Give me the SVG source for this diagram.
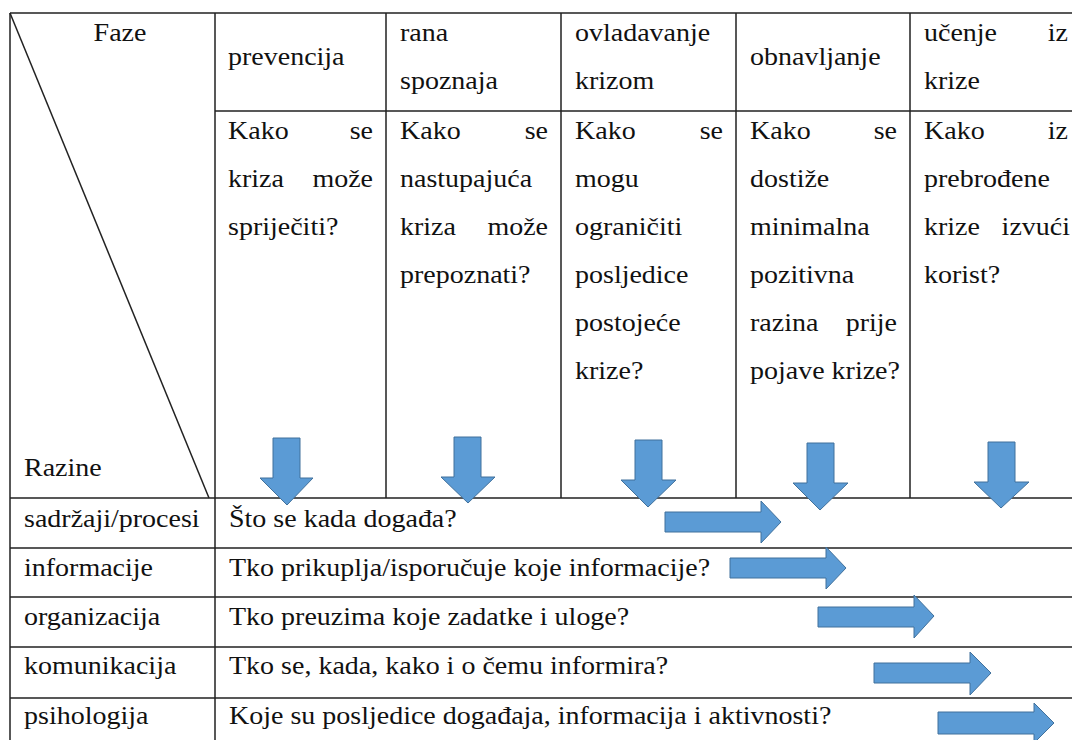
<svg xmlns="http://www.w3.org/2000/svg" width="1072" height="740" viewBox="0 0 1072 740">
<style>
.ln{stroke:#222;stroke-width:1.5;fill:none}
text{font-family:"Liberation Serif","DejaVu Serif",serif;font-size:25px;fill:#111}
.e{text-anchor:end}
.m{text-anchor:middle}
.ar{fill:#5B9BD5;stroke:#41719C;stroke-width:1}
</style>
<rect width="1072" height="740" fill="#fff"/>
<g id="grid">
<path class="ln" d="M10 13H1072M215 111H1072M10 498H1072M10 548H1072M10 597H1072M10 647H1072M10 698H1072"/>
<path class="ln" d="M10 13V740M215 13V740M386 13V498M561 13V498M736 13V498M910 13V498"/>
<path class="ln" d="M10 13L209 498"/>
</g>
<g id="corner" font-family="Liberation Serif, serif">
<text class="m" transform="translate(120 41) scale(1.12 1)">Faze</text>
<text transform="translate(24 476) scale(1.12 1)">Razine</text>
</g>
<g id="phase-prevencija">
<text transform="translate(228 65) scale(1.12 1)">prevencija</text>
<text transform="translate(228 139) scale(1.12 1)">Kako</text>
<text class="e" transform="translate(373 139) scale(1.12 1)">se</text>
<text transform="translate(228 187) scale(1.12 1)">kriza</text>
<text class="e" transform="translate(373 187) scale(1.12 1)">može</text>
<text transform="translate(228 235) scale(1.12 1)">spriječiti?</text>
</g>
<g id="phase-rana-spoznaja">
<text transform="translate(400 41) scale(1.12 1)">rana</text>
<text transform="translate(400 89) scale(1.12 1)">spoznaja</text>
<text transform="translate(400 139) scale(1.12 1)">Kako</text>
<text class="e" transform="translate(548 139) scale(1.12 1)">se</text>
<text transform="translate(400 187) scale(1.12 1)">nastupajuća</text>
<text transform="translate(400 235) scale(1.12 1)">kriza</text>
<text class="e" transform="translate(548 235) scale(1.12 1)">može</text>
<text transform="translate(400 283) scale(1.12 1)">prepoznati?</text>
</g>
<g id="phase-ovladavanje">
<text transform="translate(575 41) scale(1.12 1)">ovladavanje</text>
<text transform="translate(575 89) scale(1.12 1)">krizom</text>
<text transform="translate(575 139) scale(1.12 1)">Kako</text>
<text class="e" transform="translate(723 139) scale(1.12 1)">se</text>
<text transform="translate(575 187) scale(1.12 1)">mogu</text>
<text transform="translate(575 235) scale(1.12 1)">ograničiti</text>
<text transform="translate(575 283) scale(1.12 1)">posljedice</text>
<text transform="translate(575 331) scale(1.12 1)">postojeće</text>
<text transform="translate(575 379) scale(1.12 1)">krize?</text>
</g>
<g id="phase-obnavljanje">
<text transform="translate(750 65) scale(1.12 1)">obnavljanje</text>
<text transform="translate(750 139) scale(1.12 1)">Kako</text>
<text class="e" transform="translate(897 139) scale(1.12 1)">se</text>
<text transform="translate(750 187) scale(1.12 1)">dostiže</text>
<text transform="translate(750 235) scale(1.12 1)">minimalna</text>
<text transform="translate(750 283) scale(1.12 1)">pozitivna</text>
<text transform="translate(750 331) scale(1.12 1)">razina</text>
<text class="e" transform="translate(897 331) scale(1.12 1)">prije</text>
<text transform="translate(750 379) scale(1.12 1)">pojave krize?</text>
</g>
<g id="phase-ucenje">
<text transform="translate(924 41) scale(1.12 1)">učenje</text>
<text class="e" transform="translate(1068 41) scale(1.12 1)">iz</text>
<text transform="translate(924 89) scale(1.12 1)">krize</text>
<text transform="translate(924 139) scale(1.12 1)">Kako</text>
<text class="e" transform="translate(1068 139) scale(1.12 1)">iz</text>
<text transform="translate(924 187) scale(1.12 1)">prebrođene</text>
<text transform="translate(924 235) scale(1.12 1)">krize</text>
<text class="e" transform="translate(1070 235) scale(1.12 1)">izvući</text>
<text transform="translate(924 283) scale(1.12 1)">korist?</text>
</g>
<g id="level-sadrzaji">
<text transform="translate(24 527) scale(1.12 1)">sadržaji/procesi</text>
<text transform="translate(229 527) scale(1.12 1)">Što se kada događa?</text>
</g>
<g id="level-informacije">
<text transform="translate(24 576) scale(1.12 1)">informacije</text>
<text transform="translate(229 576) scale(1.12 1)">Tko prikuplja/isporučuje koje informacije?</text>
</g>
<g id="level-organizacija">
<text transform="translate(24 625) scale(1.12 1)">organizacija</text>
<text transform="translate(229 625) scale(1.12 1)">Tko preuzima koje zadatke i uloge?</text>
</g>
<g id="level-komunikacija">
<text transform="translate(24 674) scale(1.12 1)">komunikacija</text>
<text transform="translate(229 674) scale(1.12 1)">Tko se, kada, kako i o čemu informira?</text>
</g>
<g id="level-psihologija">
<text transform="translate(24 724) scale(1.12 1)">psihologija</text>
<text transform="translate(229 724) scale(1.12 1)">Koje su posljedice događaja, informacija i aktivnosti?</text>
</g>
<g id="connectors">
<polygon class="ar" points="273,438 300,438 300,478 313,478 287,505 260,478 273,478"/>
<polygon class="ar" points="454,437 481,437 481,477 495,477 468,503 441,477 454,477"/>
<polygon class="ar" points="635,440 662,440 662,480 676,480 648,507 621,480 635,480"/>
<polygon class="ar" points="807,443 834,443 834,483 848,483 820,510 793,483 807,483"/>
<polygon class="ar" points="988,442 1015,442 1015,482 1029,482 1001,508 974,482 988,482"/>
<polygon class="ar" points="665,512 761,512 761,501 781,522 761,543 761,532 665,532"/>
<polygon class="ar" points="730,558 826,558 826,547 846,568 826,589 826,578 730,578"/>
<polygon class="ar" points="818,607 914,607 914,595 934,616 914,638 914,627 818,627"/>
<polygon class="ar" points="874,663 970,663 970,652 991,673 970,695 970,683 874,683"/>
<polygon class="ar" points="938,712 1034,712 1034,703 1054,723 1034,743 1034,734 938,734"/>
</g>
</svg>
